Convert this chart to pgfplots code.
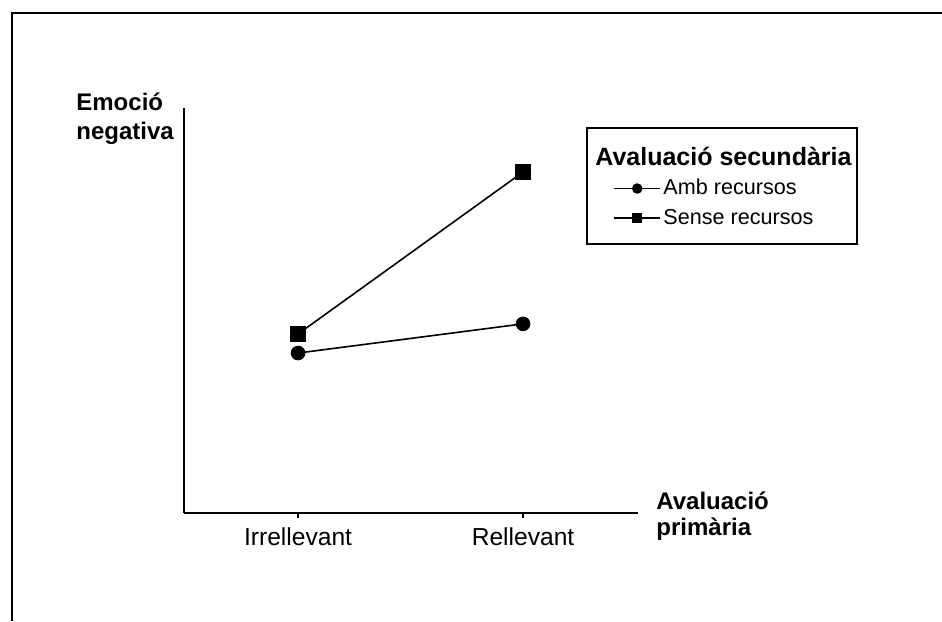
\documentclass[border=0pt]{standalone}
\usepackage{fontspec}
\setmainfont{Liberation Sans}
\usepackage{pgfplots}
\pgfplotsset{compat=1.18}

\begin{document}
\begin{tikzpicture}[x=0.5pt,y=0.5pt,font=\fontsize{12}{14.5}\selectfont]
% canvas in px units (942 x 621), y measured from bottom
\path[use as bounding box] (0,0) rectangle (942,621);
\draw[line width=0.7pt] (12,0) -- (12,608) -- (942,608);
\coordinate (origin) at (184,108);

\begin{axis}[
    at={(origin)}, anchor=south west,
    scale only axis,
    width=227pt, height=202.5pt,
    xmin=-0.507, xmax=1.511,
    ymin=0, ymax=10,
    axis x line*=bottom, axis y line*=left,
    axis line style={-, line width=0.7pt},
    xtick={0,1}, xticklabels={Irrellevant,Rellevant},
    ytick=\empty,
    tick align=outside,
    major tick length=2.5pt,
    tick style={black, line width=0.6pt},
    xticklabel style={font=\fontsize{12.3}{15}\selectfont, yshift=-1.5pt},
    legend style={at={(rel axis cs:0.945,0.765)}, anchor=west,
        draw=none, fill=none, inner sep=0pt, row sep=3.2pt,
        font=\fontsize{10.8}{13}\selectfont,
        nodes={inner sep=1.2pt}},
    legend cell align=left,
    legend image code/.code={
        \draw[mark repeat=2,mark phase=2] plot coordinates {(0pt,0pt) (11.5pt,0pt) (23pt,0pt)};},
    legend image post style={mark size=2.2pt},
]
\addplot[black, line width=0.8pt, mark=*, mark size=3.25pt, mark options={solid}]
    coordinates {(0,3.95) (1,4.67)};
\addlegendentry{Amb recursos}
\addplot[black, line width=0.8pt, mark=square*, mark size=3.5pt, mark options={solid}]
    coordinates {(0,4.42) (1,8.42)};
\addlegendentry{Sense recursos}
\end{axis}

% legend frame and title
\draw[line width=0.7pt] (587,377) rectangle (857,493);
\node[anchor=base west, inner sep=0pt, font=\fontsize{12.5}{15}\selectfont\bfseries] at (595,455) {Avaluació secundària};

% axis titles
\node[anchor=base west, inner sep=0pt, font=\fontsize{12}{14.5}\selectfont\bfseries] at (76,510) {Emoció};
\node[anchor=base west, inner sep=0pt, font=\fontsize{12}{14.5}\selectfont\bfseries] at (76,481) {negativa};
\node[anchor=base west, inner sep=0pt, font=\fontsize{12}{14.5}\selectfont\bfseries] at (656,111) {Avaluació};
\node[anchor=base west, inner sep=0pt, font=\fontsize{12}{14.5}\selectfont\bfseries] at (656,85) {primària};
\end{tikzpicture}
\end{document}
